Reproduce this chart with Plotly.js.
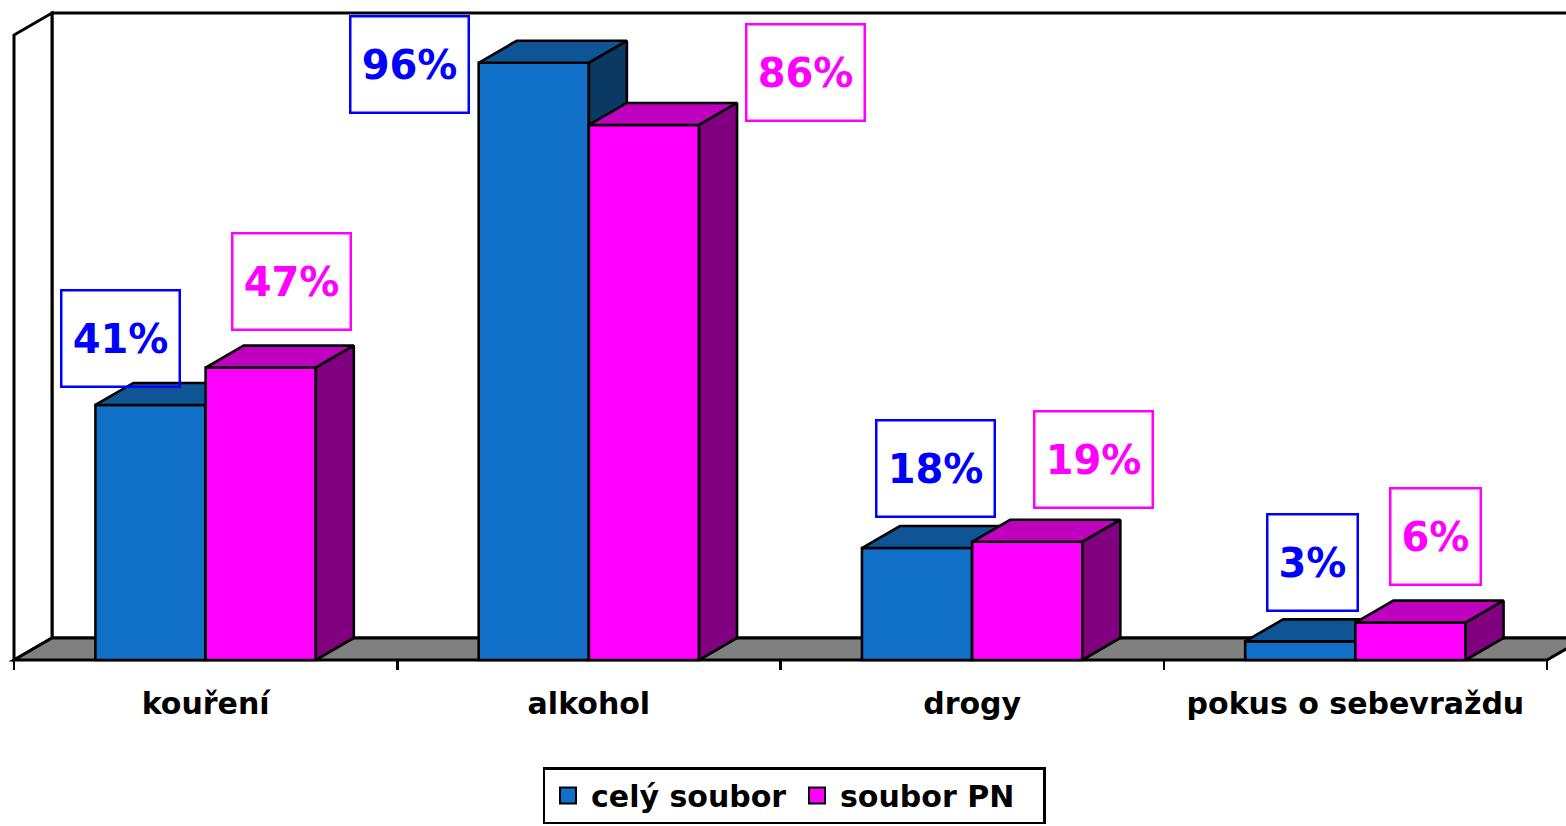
<!DOCTYPE html>
<html>
<head>
<meta charset="utf-8">
<script src="https://cdn.plot.ly/plotly-3.0.1.min.js"></script>
<style>html,body{margin:0;padding:0;background:#fff;}#chart{width:1566px;height:826px;}</style>
</head>
<body>
<div id="chart"></div>
<script>
// ---- data ----
const categories = ['kouření', 'alkohol', 'drogy', 'pokus o sebevraždu'];
const seriesNames = ['celý soubor', 'soubor PN'];
const celySoubor = [41, 96, 18, 3];
const souborPN = [47, 86, 19, 6];

// ---- label placement (pixel offsets of the data label boxes from the bar tops) ----
const blueLabelShiftX = [-30, -124, 18, 12];
const blueLabelShiftY = [66, -2, 80, 79];
const pinkLabelShiftX = [31, 162, 66, 25];
const pinkLabelShiftY = [86, 52, 82, 86];

// ---- layout geometry ----
const W = 1566, H = 826;
const mL = 8, mR = 0, mT = 8, mB = 156;
const plotW = W - mL - mR, plotH = H - mT - mB;
const pxPerX = 383.25;              // pixels per category
const pxPerY = 6.221;               // pixels per percent
const frontLeftPx = 14;             // pixel of x = -0.5
const baselinePx = 660;             // pixel of y = 0
const xMin = -0.5 - (frontLeftPx - mL) / pxPerX;
const xMax = xMin + plotW / pxPerX;
const yMin = -(mT + plotH - baselinePx) / pxPerY;
const yMax = yMin + plotH / pxPerY;
const DX = 38 / pxPerX;             // 3D depth offset, x
const DY = 22 / pxPerY;             // 3D depth offset, y
const wallTop = (baselinePx - 13) / pxPerY;
const barW = 0.2875;

const blueFront = '#1170C8', blueTop = '#0F5494', blueSide = '#0A3A64';
const pinkFront = '#FF00FF', pinkTop = '#BF00BF', pinkSide = '#800080';
const outline = {color: 'black', width: 2.6};

function topFaces(vals, off) {
  const xs = [], ys = [];
  vals.forEach((v, i) => {
    const x0 = i + off, x1 = x0 + barW;
    xs.push(x0, x1, x1 + DX, x0 + DX, x0, null);
    ys.push(v, v, v + DY, v + DY, v, null);
  });
  return {x: xs, y: ys};
}
function sideFaces(vals, off) {
  const xs = [], ys = [];
  vals.forEach((v, i) => {
    const x1 = i + off + barW;
    xs.push(x1, x1, x1 + DX, x1 + DX, x1, null);
    ys.push(0, v, v + DY, DY, 0, null);
  });
  return {x: xs, y: ys};
}
function faceTrace(f, color, xa, ya) {
  return {type: 'scatter', mode: 'lines', x: f.x, y: f.y, fill: 'toself', fillcolor: color,
    line: outline, xaxis: xa, yaxis: ya, showlegend: false, hoverinfo: 'skip', connectgaps: false};
}
function legendTrace(name, color) {
  return {type: 'scatter', mode: 'markers', name: name, x: [null], y: [null], xaxis: 'x2', yaxis: 'y2',
    marker: {symbol: 'square', size: 16, color: color, line: {color: 'black', width: 2}}, hoverinfo: 'skip'};
}
const idx = categories.map((c, i) => i);

const traces = [
  {type: 'bar', name: seriesNames[0], x: idx, y: celySoubor, offset: -barW, width: barW, showlegend: false,
   marker: {color: blueFront, line: outline}, xaxis: 'x', yaxis: 'y', hoverinfo: 'skip'},
  faceTrace(topFaces(celySoubor, -barW), blueTop, 'x', 'y'),
  faceTrace(sideFaces(celySoubor, -barW), blueSide, 'x', 'y'),
  {type: 'bar', name: seriesNames[1], x: idx, y: souborPN, offset: 0, width: barW, showlegend: false,
   marker: {color: pinkFront, line: outline}, xaxis: 'x2', yaxis: 'y2', hoverinfo: 'skip'},
  faceTrace(topFaces(souborPN, 0), pinkTop, 'x2', 'y2'),
  faceTrace(sideFaces(souborPN, 0), pinkSide, 'x2', 'y2'),
  legendTrace(seriesNames[0], blueFront),
  legendTrace(seriesNames[1], pinkFront)
];

const annotations = [];
function addLabels(vals, center, sx, sy, color) {
  vals.forEach((v, i) => {
    annotations.push({x: i + center, y: v, xref: 'x', yref: 'y', text: v + '%', showarrow: false,
      xanchor: 'center', yanchor: 'middle', xshift: sx[i], yshift: sy[i],
      font: {family: 'DejaVu Sans', size: 40, weight: 'bold', color: color},
      bordercolor: color, borderwidth: 2.5, borderpad: 1, bgcolor: 'rgba(0,0,0,0)',
      width: String(v).length > 1 ? 114 : 86, height: 92});
  });
}
addLabels(celySoubor, -barW / 2, blueLabelShiftX, blueLabelShiftY, '#0000FF');
addLabels(souborPN, barW / 2, pinkLabelShiftX, pinkLabelShiftY, '#FF00FF');

const n = categories.length;
const frameLine = {color: 'black', width: 3};
const shapes = [
  // back wall
  {type: 'rect', xref: 'x', yref: 'y', x0: -0.5 + DX, x1: xMax + 1, y0: DY, y1: wallTop,
   fillcolor: 'white', line: frameLine, layer: 'below'},
  // left side wall
  {type: 'path', xref: 'x', yref: 'y', layer: 'below', fillcolor: 'white', line: frameLine,
   path: `M ${-0.5},0 L ${-0.5},${wallTop - DY} L ${-0.5 + DX},${wallTop} L ${-0.5 + DX},${DY} Z`},
  // floor
  {type: 'path', xref: 'x', yref: 'y', layer: 'below', fillcolor: '#808080', line: frameLine,
   path: `M ${-0.5},0 L ${n - 0.5},0 L ${n - 0.5 + DX},${DY} L ${-0.5 + DX},${DY} Z`}
];

const axisFont = {family: 'DejaVu Sans', size: 30, weight: 'bold', color: 'black'};
const layout = {
  width: W, height: H,
  margin: {l: mL, r: mR, t: mT, b: mB},
  paper_bgcolor: 'white', plot_bgcolor: 'rgba(0,0,0,0)',
  showlegend: true, barmode: 'overlay',
  xaxis: {range: [xMin, xMax], tickmode: 'array', tickvals: idx, ticktext: categories, ticks: '',
    showgrid: false, zeroline: false, showline: false, tickfont: axisFont,
    anchor: 'free', position: (baselinePx - (mT + plotH)) / -plotH, ticklabelstandoff: 23,
    minor: {ticks: 'outside', ticklen: 9, tickwidth: 2.5, tickcolor: 'black', tick0: -0.5, dtick: 1, showgrid: false},
    fixedrange: true},
  yaxis: {range: [yMin, yMax], showgrid: false, zeroline: false, showticklabels: false, ticks: '', showline: false, fixedrange: true},
  xaxis2: {range: [xMin, xMax], overlaying: 'x', visible: false, fixedrange: true},
  yaxis2: {range: [yMin, yMax], overlaying: 'y', visible: false, fixedrange: true},
  legend: {orientation: 'h', x: (794 - mL) / plotW, xanchor: 'center', xref: 'paper',
    y: ((mT + plotH) - 767) / plotH, yanchor: 'top',
    font: {family: 'DejaVu Sans', size: 30, weight: 'bold', color: 'black'},
    bordercolor: 'black', borderwidth: 2.5, bgcolor: 'white', traceorder: 'normal',
    itemwidth: 36, entrywidth: 198, entrywidthmode: 'pixels'},
  shapes: shapes,
  annotations: annotations,
  hovermode: false
};

Plotly.newPlot('chart', traces, layout, {staticPlot: true, displayModeBar: false});
</script>
</body>
</html>
